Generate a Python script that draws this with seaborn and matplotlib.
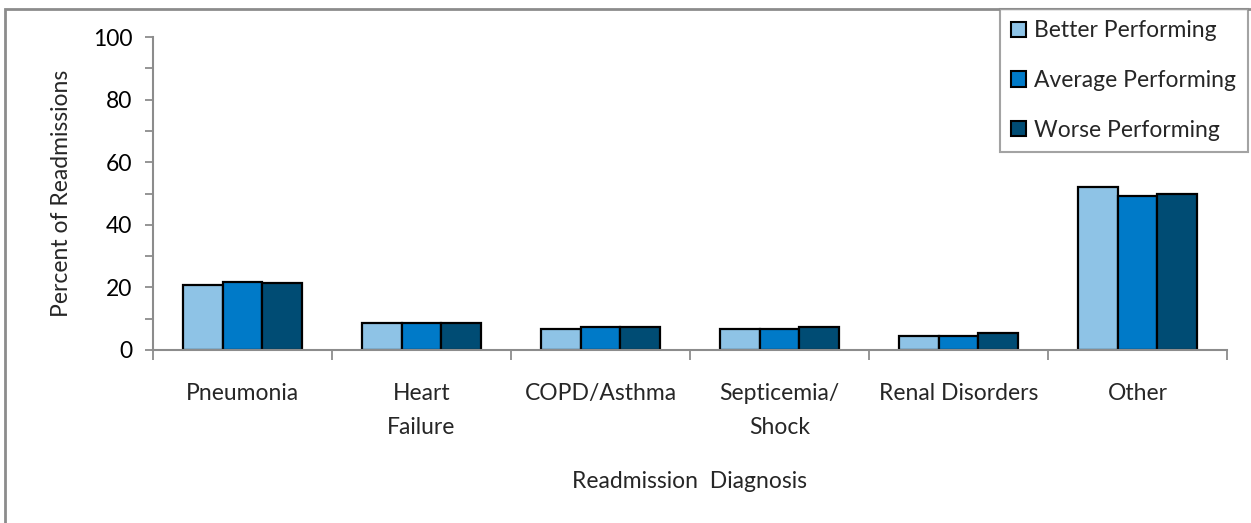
import pandas as pd
import matplotlib.pyplot as plt
import seaborn as sns
from matplotlib.patches import Rectangle
from matplotlib.ticker import MultipleLocator, FixedLocator

# Dados
categorias = ['Pneumonia', 'Heart\nFailure', 'COPD/Asthma', 'Septicemia/\nShock',
              'Renal Disorders', 'Other']
grupos = ['Better Performing', 'Average Performing', 'Worse Performing']
better = [20.8, 8.5, 6.6, 6.6, 4.6, 52.0]
average = [21.8, 8.5, 7.2, 6.6, 4.6, 49.3]
worse = [21.3, 8.5, 7.2, 7.3, 5.3, 49.8]

df = pd.DataFrame({
    'Diagnosis': categorias * 3,
    'Group': [g for g in grupos for _ in categorias],
    'Percent': better + average + worse,
})

sns.set_style('white')
plt.rcParams['font.family'] = ['Lato', 'DejaVu Sans']
colors = ['#8EC3E6', '#007AC8', '#004C74']
grey = '#8c8c8c'
fs = 16.5

fig = plt.figure(figsize=(12.51, 5.23), dpi=100)
ax = fig.add_axes([153 / 1251, 1 - 350 / 523, (1227 - 153) / 1251, (350 - 37) / 523])

sns.barplot(data=df, x='Diagnosis', y='Percent', hue='Group', palette=colors,
            width=0.66, gap=0, edgecolor='black', linewidth=1.6, saturation=1,
            ax=ax, legend=False)

ax.set_xlim(-0.5, 5.5)
ax.set_ylim(0, 100)
ax.yaxis.set_major_locator(MultipleLocator(20))
ax.yaxis.set_minor_locator(MultipleLocator(10))
ax.xaxis.set_minor_locator(FixedLocator([i - 0.5 for i in range(7)]))

for s in ['top', 'right']:
    ax.spines[s].set_visible(False)
for s in ['left', 'bottom']:
    ax.spines[s].set_color(grey)
    ax.spines[s].set_linewidth(1.5)

ax.tick_params(axis='y', which='both', direction='out', length=6, width=1.3,
               color=grey, left=True, labelsize=fs, pad=9, labelcolor='black')
ax.tick_params(axis='x', which='major', length=0, labelsize=fs, pad=24)
ax.tick_params(axis='x', which='minor', direction='out', length=7, width=1.3,
               color=grey, bottom=True)
for lbl in ax.get_xticklabels():
    lbl.set_linespacing(1.75)
    lbl.set_va('top')

ax.set_xlabel('Readmission  Diagnosis', fontsize=fs)
ax.xaxis.set_label_coords(0.5, (350 - 481) / 313)
ax.xaxis.label.set_va('center')
ax.set_ylabel('Percent of Readmissions', fontsize=fs)
ax.yaxis.set_label_coords((62 - 153) / 1074, 0.5)
ax.yaxis.label.set_va('center')

# Moldura externa do gráfico
fig.patches.append(Rectangle((5 / 1251, -0.1), 1.2, 1.1 - 9 / 523,
                             transform=fig.transFigure, fill=False,
                             edgecolor=grey, linewidth=2))

handles = [Rectangle((0, 0), 1, 1, facecolor=c, edgecolor='black', linewidth=1.5)
           for c in colors]
leg = fig.legend(handles, grupos, loc='upper left',
                 bbox_to_anchor=(1000 / 1251, 1 - 9 / 523), frameon=True,
                 fancybox=False, fontsize=fs, handlelength=0.65, handleheight=0.65,
                 handletextpad=0.35, labelspacing=1.25, borderpad=0.5,
                 borderaxespad=0)
leg.get_frame().set_edgecolor(grey)
leg.get_frame().set_linewidth(1.5)

fig.savefig('out.png', dpi=100)
